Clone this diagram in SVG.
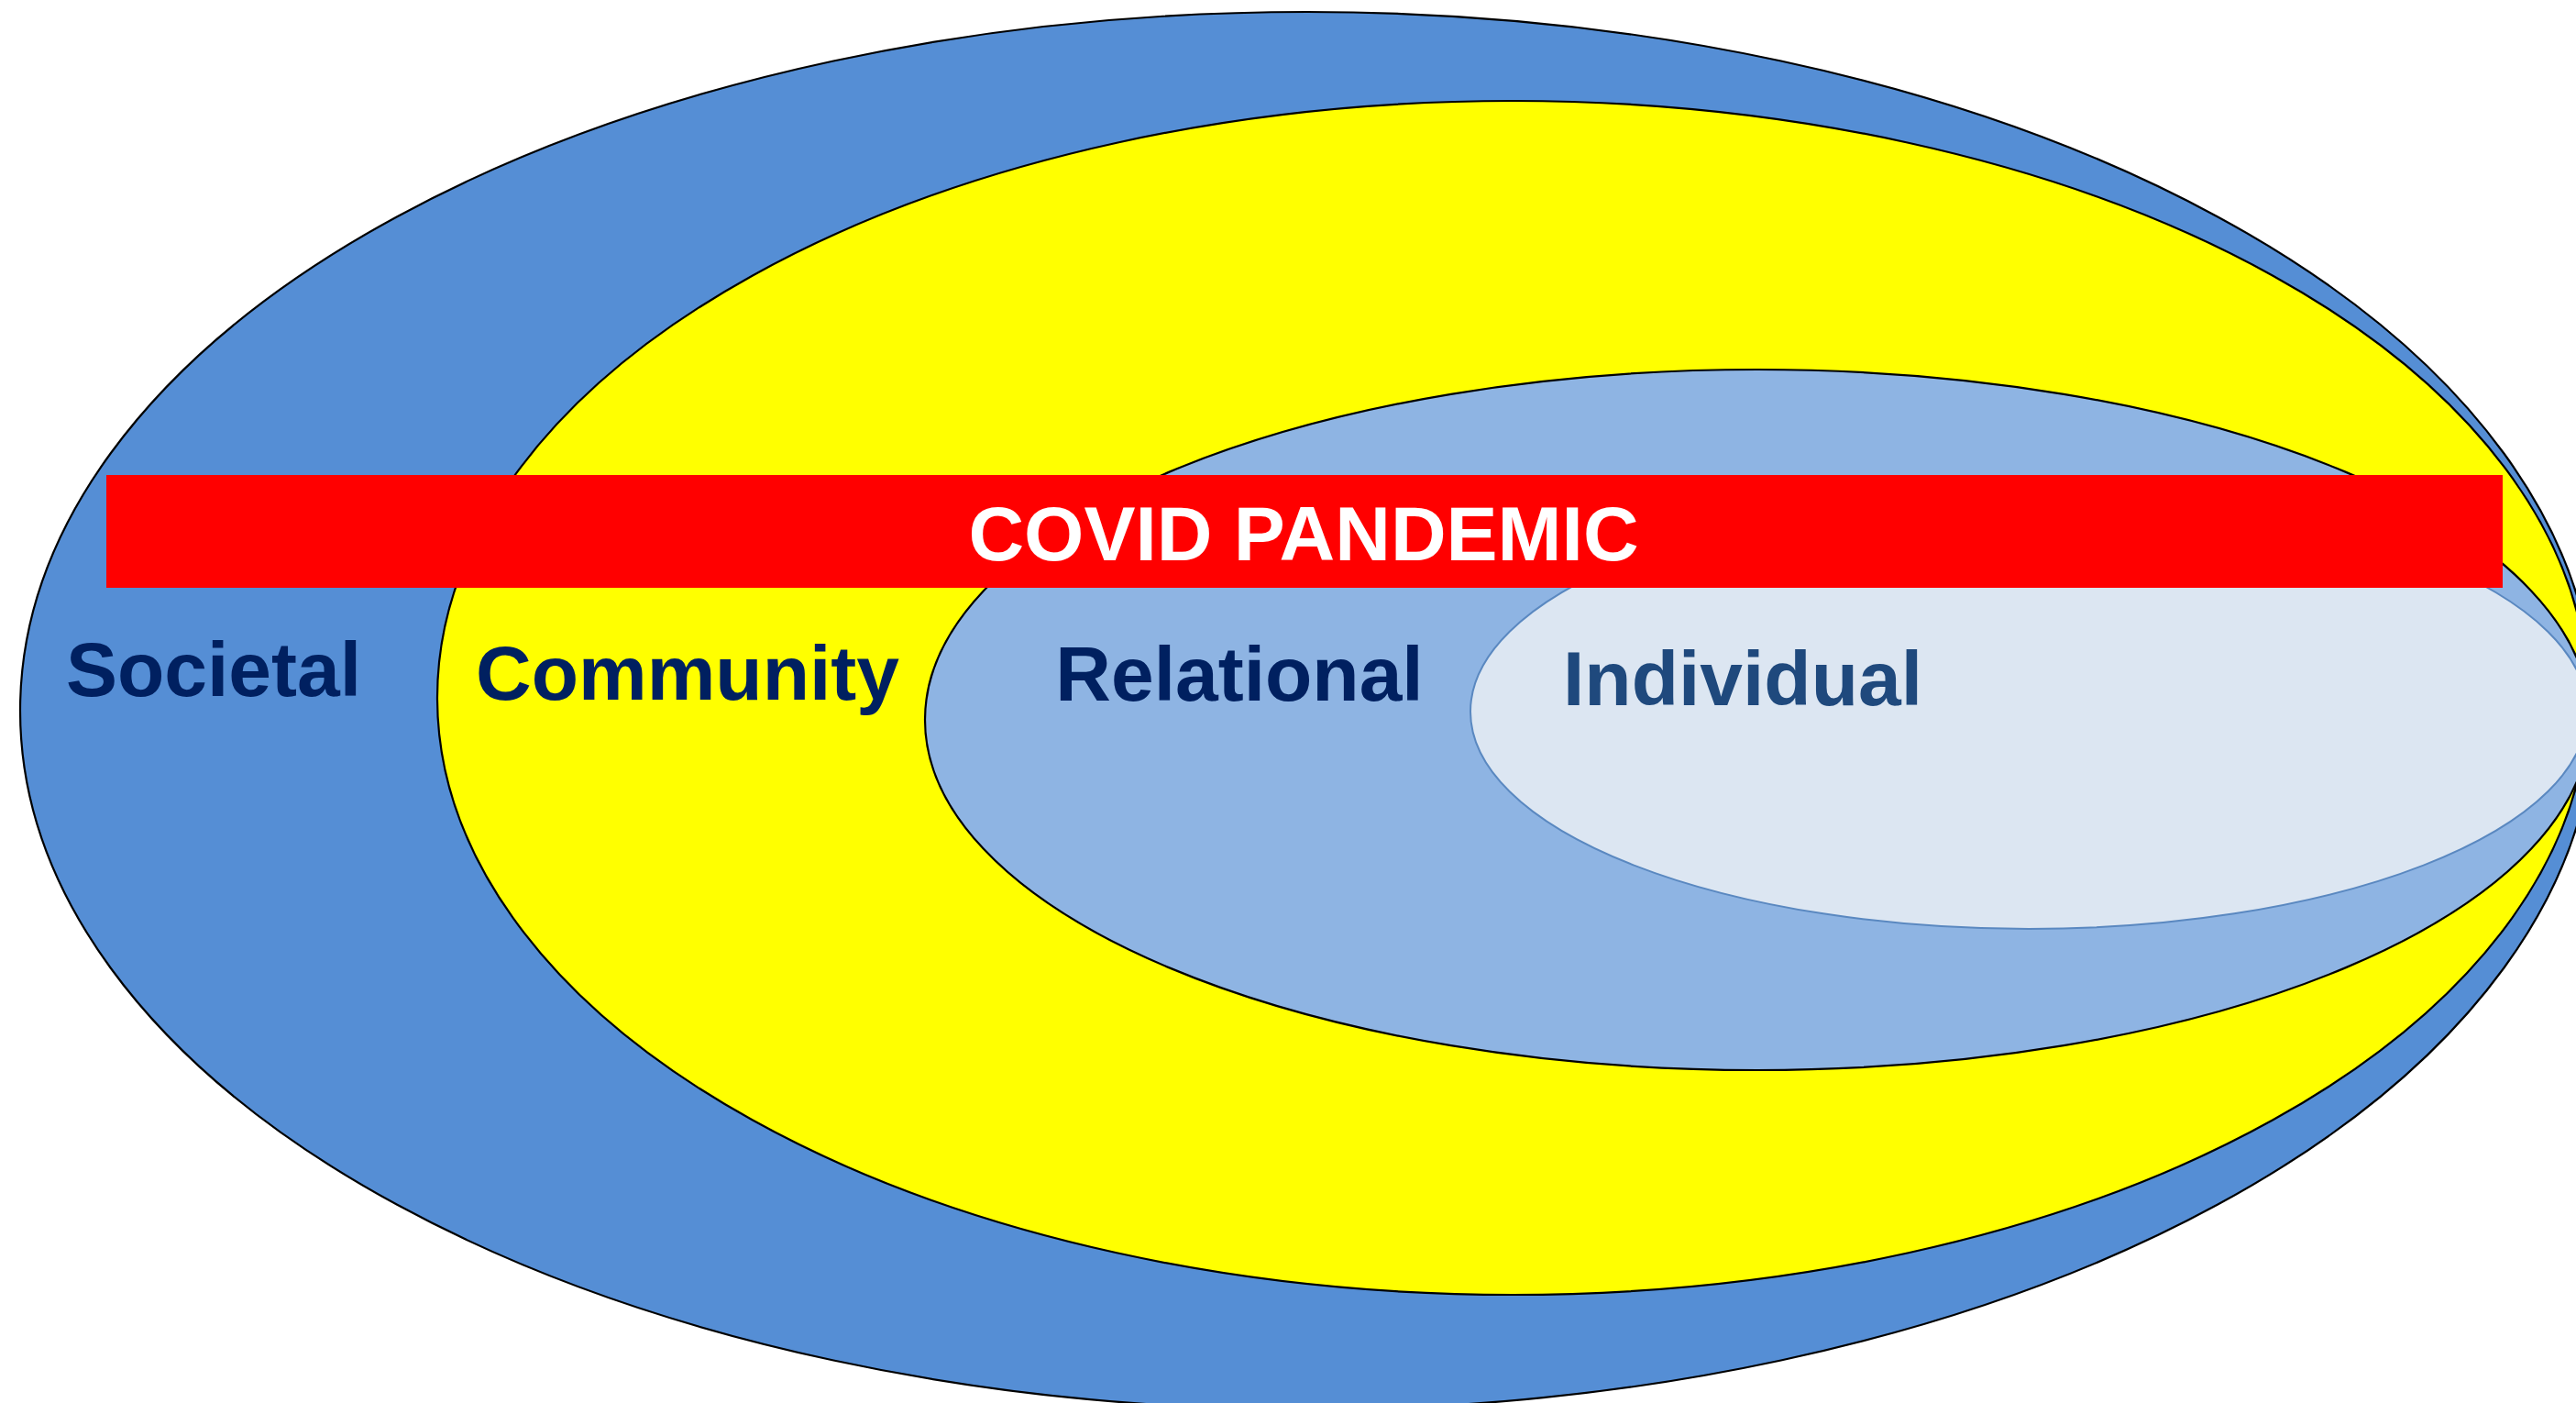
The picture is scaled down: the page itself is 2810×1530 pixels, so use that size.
<svg xmlns="http://www.w3.org/2000/svg" width="2810" height="1530" viewBox="0 0 2810 1530">
<style>
.ring{stroke:#000;stroke-width:2.2}
.lbl{font-family:"Liberation Sans",Arial,sans-serif;font-weight:bold;font-size:84px;text-anchor:middle}
</style>
<rect width="2810" height="1530" fill="#fff"/>
<g id="societal">
<ellipse class="ring" cx="1426" cy="775" rx="1404" ry="762" fill="#558ED5"/>
</g>
<g id="community">
<ellipse class="ring" cx="1650" cy="761" rx="1173" ry="651" fill="#FFFF00"/>
</g>
<g id="relational">
<ellipse class="ring" cx="1917" cy="785" rx="908" ry="382" fill="#8EB4E3"/>
</g>
<g id="individual">
<ellipse cx="2213" cy="776" rx="609" ry="237" fill="#DCE6F2" stroke="#5A88C0" stroke-width="2"/>
</g>
<g id="covid">
<rect x="116" y="518" width="2614" height="123" fill="#FF0000"/>
<text class="lbl" x="1422" y="611" fill="#FFFFFF">COVID PANDEMIC</text>
</g>
<g id="labels">
<text class="lbl" x="233" y="759" fill="#002060">Societal</text>
<text class="lbl" x="750" y="763" fill="#002060">Community</text>
<text class="lbl" x="1352" y="764" fill="#002060">Relational</text>
<text class="lbl" x="1901" y="769" fill="#1F497D">Individual</text>
</g>
<g id="connectors"/>
</svg>
